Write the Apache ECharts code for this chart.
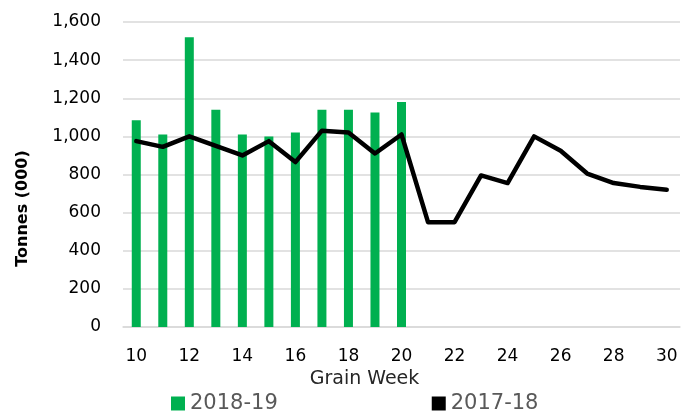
<!DOCTYPE html>
<html>
<head>
<meta charset="utf-8">
<script src="https://cdn.jsdelivr.net/npm/echarts@6/dist/echarts.min.js"></script>
<style>
    html, body { margin: 0; padding: 0; background: #fff; }
    #chart { width: 691px; height: 411px; }
</style>
</head>
<body>
<div id="chart"></div>
<script>
// grain weeks 10..30
var weeks = ['10', '11', '12', '13', '14', '15', '16', '17', '18', '19', '20',
    '21', '22', '23', '24', '25', '26', '27', '28', '29', '30'];
// 2018-19 only goes to week 20
var season1819 = [1085, 1010, 1520, 1140, 1010, 1000, 1020, 1140, 1140, 1125, 1180,
    null, null, null, null, null, null, null, null, null, null];
var season1718 = [975, 945, 1000, 950, 900, 975, 865, 1030, 1020, 910, 1010,
    550, 550, 795, 755, 1000, 925, 805, 755, 735, 720];

var chart = echarts.init(document.getElementById('chart'));
var font = 'DejaVu Sans';

chart.setOption({
    animation: false,
    grid: { left: 123, right: 11, top: 22, bottom: 84 },
    legend: {
        top: 388,
        left: 166,
        itemGap: 154,
        itemWidth: 14,
        itemHeight: 14,
        textStyle: { fontFamily: font, fontSize: 21, color: '#595959' },
        data: [
            { name: '2018-19', icon: 'rect' },
            { name: '2017-18', icon: 'rect' }
        ]
    },
    xAxis: {
        type: 'category',
        data: weeks,
        name: 'Grain Week',
        nameLocation: 'middle',
        nameGap: 43,
        nameTextStyle: { fontFamily: font, fontSize: 19, color: '#262626', padding: [0, 74, 0, 0] },
        axisTick: { show: false },
        axisLine: { lineStyle: { color: '#d9d9d9', width: 1.5 } },
        axisLabel: { interval: 1, margin: 21, fontFamily: font, fontSize: 17, color: '#000' }
    },
    yAxis: {
        type: 'value',
        min: 0,
        max: 1600,
        interval: 200,
        name: 'Tonnes (000)',
        nameLocation: 'middle',
        nameGap: 92,
        nameTextStyle: { fontFamily: font, fontSize: 16, fontWeight: 'bold', color: '#000', padding: [0, 68, 0, 0] },
        splitLine: { lineStyle: { color: '#d9d9d9', width: 1.5 } },
        axisLabel: {
            margin: 22,
            fontFamily: font,
            fontSize: 17,
            color: '#000',
            formatter: function (v) { return v.toLocaleString('en-US'); }
        }
    },
    series: [
        {
            name: '2018-19',
            type: 'bar',
            data: season1819,
            barWidth: 9,
            itemStyle: { color: '#00b050' }
        },
        {
            name: '2017-18',
            type: 'line',
            data: season1718,
            symbol: 'none',
            itemStyle: { color: '#000' },
            lineStyle: { color: '#000', width: 4.5, join: 'round', cap: 'round' }
        }
    ]
});
</script>
</body>
</html>
